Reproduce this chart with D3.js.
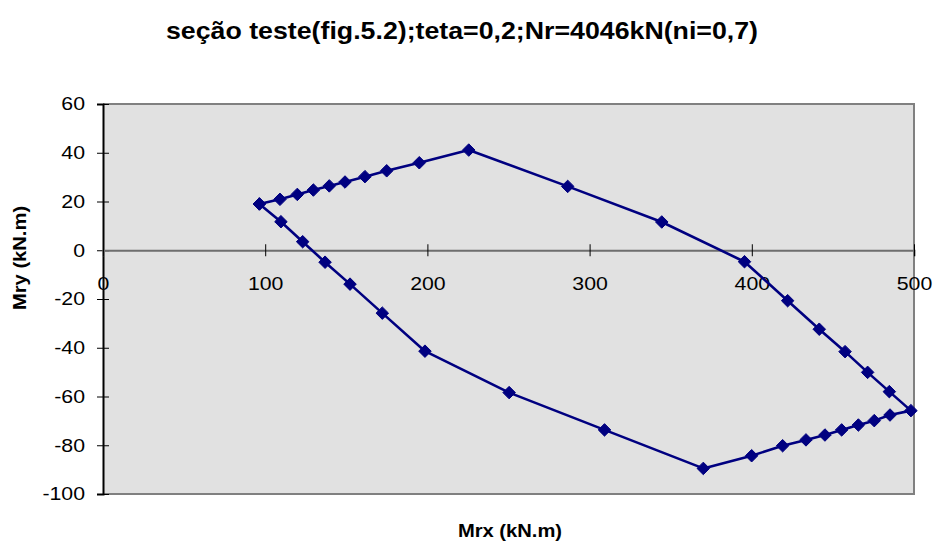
<!DOCTYPE html>
<html>
<head>
<meta charset="utf-8">
<script src="https://cdn.jsdelivr.net/npm/d3@7"></script>
<style>
  html, body { margin: 0; padding: 0; background: #ffffff; }
  svg { display: block; }
  text { font-family: "Liberation Sans", Arial, sans-serif; fill: #000; }
</style>
</head>
<body>
<svg id="chart" width="936" height="543"></svg>
<script>
const title = "seção teste(fig.5.2);teta=0,2;Nr=4046kN(ni=0,7)";
const xTitle = "Mrx (kN.m)";
const yTitle = "Mry (kN.m)";
const xTicks = [0, 100, 200, 300, 400, 500];
const yTicks = [-100, -80, -60, -40, -20, 0, 20, 40, 60];
const mrx = [96.4, 109.1, 119.8, 129.7, 139.5, 149.2, 161.5, 174.9, 195.0, 225.5,
             286.5, 344.5, 395.5, 422.1, 441.6, 457.5, 471.4, 484.8, 498.1,
             485.2, 475.5, 465.7, 455.4, 445.1, 433.4, 419.0, 399.9, 370.1,
             309.2, 250.4, 198.5, 172.2, 152.3, 136.9, 123.1, 109.7, 96.4];
const mry = [19.0, 20.9, 22.9, 24.7, 26.4, 28.0, 30.2, 32.6, 35.9, 41.1,
             26.2, 11.6, -4.7, -20.7, -32.4, -41.6, -50.1, -58.0, -65.8,
             -67.6, -69.9, -71.7, -73.7, -75.8, -77.8, -80.2, -84.3, -89.5,
             -73.7, -58.4, -41.4, -25.8, -13.9, -4.9, 3.5, 11.7, 19.0];

const W = 936, H = 543;
const plot = { left: 103, right: 914, top: 104, bottom: 494 };
const svg = d3.select("#chart");

const x = d3.scaleLinear().domain([0, 500]).range([plot.left, plot.right]);
const y = d3.scaleLinear().domain([-100, 60]).range([plot.bottom, plot.top]);
const fmt = d => String(d);

function stretch(sel, k) {
  sel.each(function () {
    const w = this.getComputedTextLength();
    d3.select(this).attr("textLength", w * k).attr("lengthAdjust", "spacingAndGlyphs");
  });
}

// plot background
svg.append("rect")
  .attr("x", plot.left).attr("y", plot.top)
  .attr("width", plot.right - plot.left).attr("height", plot.bottom - plot.top)
  .attr("fill", "#e1e1e1");

// border (top, right, bottom) gray
svg.append("path")
  .attr("d", `M${plot.left},${plot.top}H${plot.right}V${plot.bottom}H${plot.left}`)
  .attr("fill", "none").attr("stroke", "#808080").attr("stroke-width", 2);

// y axis
const yAxis = svg.append("g")
  .attr("transform", `translate(${plot.left},0)`)
  .call(d3.axisLeft(y).tickValues(yTicks).tickSize(6).tickPadding(12).tickFormat(fmt));
yAxis.select(".domain").attr("stroke", "#000").attr("stroke-width", 2);
yAxis.selectAll(".tick line").attr("stroke", "#000").attr("x2", 6).attr("x1", -6);
yAxis.selectAll(".tick text")
  .style("font-family", "'Liberation Sans', Arial, sans-serif")
  .attr("font-size", 18.5).attr("fill", "#000");
stretch(yAxis.selectAll(".tick text"), 1.15);

// x axis at y=0
const xAxis = svg.append("g")
  .attr("transform", `translate(0,${y(0)})`)
  .call(d3.axisBottom(x).tickValues(xTicks).tickSize(6).tickPadding(21).tickFormat(fmt));
xAxis.select(".domain").attr("stroke", "#6e6e6e").attr("stroke-width", 2);
xAxis.selectAll(".tick line").attr("stroke", "#000").attr("y1", -6).attr("y2", 6);
xAxis.selectAll(".tick text")
  .style("font-family", "'Liberation Sans', Arial, sans-serif")
  .attr("font-size", 18.5).attr("fill", "#000");
stretch(xAxis.selectAll(".tick text"), 1.15);

// series line
const pts = mrx.map((v, i) => [v, mry[i]]);
svg.append("path")
  .datum(pts)
  .attr("fill", "none")
  .attr("stroke", "#000080")
  .attr("stroke-width", 2.6)
  .attr("stroke-linejoin", "round")
  .attr("d", d3.line().x(d => x(d[0])).y(d => y(d[1])));

// diamond markers
const diamond = d3.symbol().type(d3.symbolDiamond2).size(100);
svg.append("g").selectAll("path")
  .data(pts)
  .join("path")
  .attr("transform", d => `translate(${x(d[0])},${y(d[1])})`)
  .attr("d", diamond)
  .attr("fill", "#000080")
  .attr("stroke", "#000080")
  .attr("stroke-width", 1);

// titles
svg.append("text")
  .attr("x", 462).attr("y", 39)
  .attr("text-anchor", "middle")
  .attr("font-size", 24).attr("font-weight", "bold")
  .attr("textLength", 592).attr("lengthAdjust", "spacingAndGlyphs")
  .text(title);

const xt = svg.append("text")
  .attr("x", 510).attr("y", 537)
  .attr("text-anchor", "middle")
  .attr("font-size", 18).attr("font-weight", "bold")
  .text(xTitle);
stretch(xt, 1.12);

const yt = svg.append("text")
  .attr("transform", "translate(26,258) rotate(-90)")
  .attr("text-anchor", "middle")
  .attr("font-size", 18).attr("font-weight", "bold")
  .text(yTitle);
stretch(yt, 1.12);
</script>
</body>
</html>
